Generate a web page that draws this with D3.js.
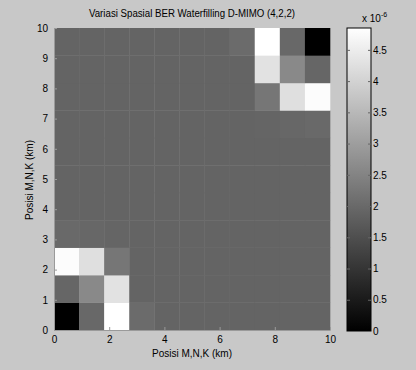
<!DOCTYPE html>
<html><head><meta charset="utf-8">
<script src="https://cdn.jsdelivr.net/npm/d3@7"></script>
<style>html,body{margin:0;padding:0;background:#c8c8c8;}svg{display:block;}</style>
</head><body>
<svg id="chart" width="416" height="370"></svg>
<script>
// Data (BER values in units of 1e-6), rows from y=0 (bottom) to y=10 (top), columns x=0..10
const colIndex = [0,1,2,3,4,5,6,7,8,9,10];
const rowIndex = [0,1,2,3,4,5,6,7,8,9,10];
const bg = 1.9;
const row0  = [0.0, 1.98, 4.85, 2.04, bg, bg, bg, bg, bg, bg, bg];
const row1  = [1.94, 2.6, 4.3, bg, bg, bg, bg, bg, bg, bg, bg];
const row2  = [4.8, 4.25, 2.24, bg, bg, bg, bg, bg, bg, bg, bg];
const row3  = [2.0, 1.96, 1.93, bg, bg, bg, bg, bg, bg, bg, bg];
const row4  = [bg, bg, bg, bg, bg, bg, bg, bg, bg, bg, bg];
const row5  = [bg, bg, bg, bg, bg, bg, bg, bg, bg, bg, bg];
const row6  = [bg, bg, bg, bg, bg, bg, bg, bg, bg, bg, bg];
const row7  = [bg, bg, bg, bg, bg, bg, bg, bg, 1.93, 1.96, 2.0];
const row8  = [bg, bg, bg, bg, bg, bg, bg, bg, 2.24, 4.25, 4.8];
const row9  = [bg, bg, bg, bg, bg, bg, bg, bg, 4.3, 2.6, 1.94];
const row10 = [bg, bg, bg, bg, bg, bg, bg, 2.04, 4.85, 1.98, 0.0];
const rows = [row0,row1,row2,row3,row4,row5,row6,row7,row8,row9,row10];
const xTicks = [0,2,4,6,8,10];
const yTicks = [0,1,2,3,4,5,6,7,8,9,10];
const cbTicks = [0,0.5,1,1.5,2,2.5,3,3.5,4,4.5];
const cMax = 4.85;

const svg = d3.select("#chart");
const font = "'Liberation Sans', Arial, sans-serif";
const L = 54, R = 330, T = 28, B = 330;

const xBand = d3.scaleBand().domain(colIndex).range([L, R]);
const yBand = d3.scaleBand().domain(rowIndex).range([B, T]);
const xLin = d3.scaleLinear().domain([0,10]).range([L, R]);
const yLin = d3.scaleLinear().domain([0,10]).range([B, T]);
const color = v => d3.interpolateRgb("#000000", "#ffffff")(Math.max(0, Math.min(1, v / cMax)));

const cells = [];
rows.forEach((r, ri) => r.forEach((v, ci) => cells.push({x: colIndex[ci], y: rowIndex[ri], v})));
svg.append("g").selectAll("rect").data(cells).join("rect")
  .attr("x", d => xBand(d.x)).attr("y", d => yBand(d.y))
  .attr("width", xBand.bandwidth() + 0.3).attr("height", yBand.bandwidth() + 0.3)
  .attr("fill", d => color(d.v));

// axes
const xAxis = d3.axisBottom(xLin).tickValues(xTicks).tickSizeInner(-3).tickSizeOuter(0).tickPadding(6);
const gx = svg.append("g").attr("transform", `translate(0,${B})`).call(xAxis);
const yAxis = d3.axisLeft(yLin).tickValues(yTicks).tickSizeInner(-3).tickSizeOuter(0).tickPadding(6);
const gy = svg.append("g").attr("transform", `translate(${L},0)`).call(yAxis);
[gx, gy].forEach(g => {
  g.selectAll("path.domain").attr("stroke", "#9a9a9a").attr("stroke-width", 1);
  g.selectAll(".tick line").attr("stroke", "#9a9a9a");
  g.selectAll("text").attr("font-family", font).attr("font-size", 10).attr("fill", "#000");
});

// title & labels
svg.append("text").attr("x", 192).attr("y", 17).attr("text-anchor", "middle")
  .attr("font-family", font).attr("font-size", 10).attr("textLength", 206).attr("lengthAdjust", "spacingAndGlyphs")
  .text("Variasi Spasial BER Waterfilling D-MIMO (4,2,2)");
svg.append("text").attr("x", 192).attr("y", 357).attr("text-anchor", "middle")
  .attr("font-family", font).attr("font-size", 10)
  .text("Posisi M,N,K (km)");
svg.append("text").attr("transform", "translate(33,180) rotate(-90)").attr("text-anchor", "middle")
  .attr("font-family", font).attr("font-size", 10)
  .text("Posisi M,N,K (km)");

// colorbar
const cbL = 347, cbW = 24;
const cbScale = d3.scaleLinear().domain([0, cMax]).range([B + 1, T]);
const defs = svg.append("defs");
const grad = defs.append("linearGradient").attr("id", "cbgrad").attr("x1", 0).attr("y1", 1).attr("x2", 0).attr("y2", 0);
grad.append("stop").attr("offset", 0).attr("stop-color", color(0));
grad.append("stop").attr("offset", 1).attr("stop-color", color(cMax));
svg.append("rect").attr("x", cbL).attr("y", cbScale(cMax)).attr("width", cbW)
  .attr("height", cbScale(0) - cbScale(cMax)).attr("fill", "url(#cbgrad)")
  .attr("stroke", "#000").attr("stroke-width", 1);
const cbAxis = d3.axisRight(cbScale).tickValues(cbTicks).tickFormat(d3.format("")).tickSizeInner(-3).tickSizeOuter(0).tickPadding(2);
const gcb = svg.append("g").attr("transform", `translate(${cbL + cbW},0)`).call(cbAxis);
gcb.selectAll("path.domain").remove();
gcb.selectAll(".tick line").attr("stroke", "#666");
gcb.selectAll("text").attr("font-family", font).attr("font-size", 10).attr("fill", "#000");
gcb.selectAll(".tick").append("line").attr("x1", -cbW).attr("x2", -cbW + 3).attr("stroke", "#666");

const ex = svg.append("text").attr("x", 362).attr("y", 22).attr("font-family", font).attr("font-size", 10);
ex.append("tspan").text("x 10");
ex.append("tspan").attr("dy", -5).attr("font-size", 7).text("-6");
</script>
</body></html>
